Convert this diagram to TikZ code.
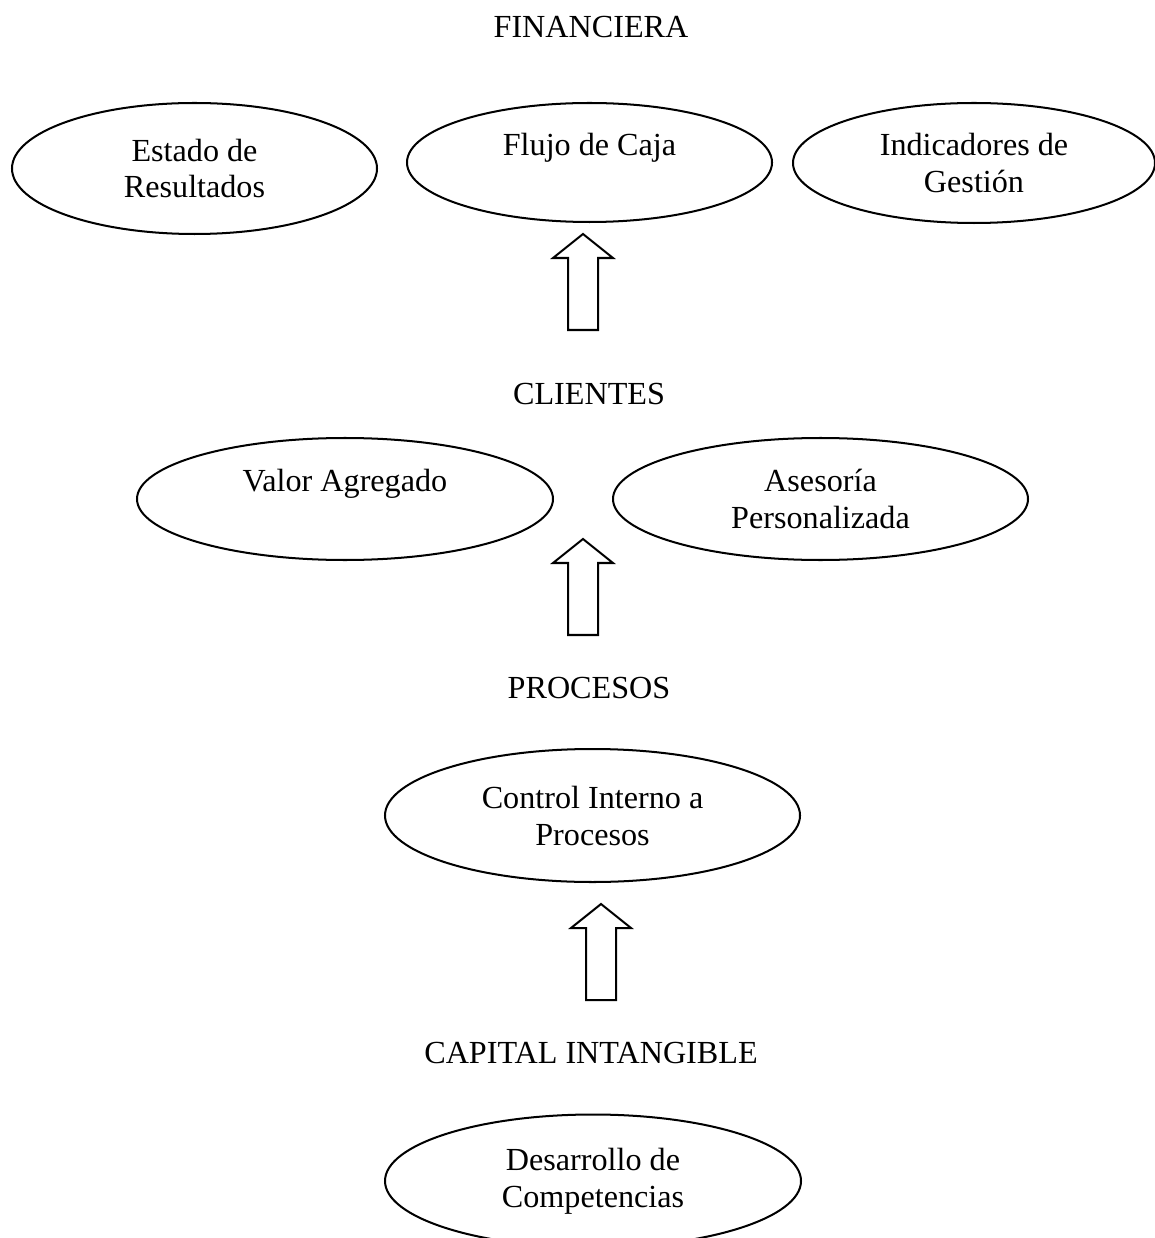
\documentclass[tikz,border=0pt]{standalone}
\usepackage{fontspec}
\setmainfont{Liberation Serif}
\usetikzlibrary{shapes.geometric}

\tikzset{
  txt/.style={font=\fontsize{12}{13.8}\selectfont, inner sep=0pt, align=center},
  oval/.style={draw, line width=0.75pt, ellipse, inner sep=0pt, txt},
  blockline/.style={draw, line width=0.75pt, line join=miter, fill=white},
  uparrow/.pic={
    \path[blockline] (0,0) -- (30,24) -- (15,24) -- (15,96) -- (-15,96)
      -- (-15,24) -- (-30,24) -- cycle;
  }
}

\begin{document}
\begin{tikzpicture}[x=0.3731pt, y=-0.3731pt]
  \useasboundingbox (0,0) rectangle (1154,1238);

  % level headings
  \node[txt] (fin)  at (591,27)   {FINANCIERA};
  \node[txt] (cli)  at (589,394)  {CLIENTES};
  \node[txt] (pro)  at (589,688)  {PROCESOS};
  \node[txt] (cap)  at (591,1053) {CAPITAL INTANGIBLE};

  % financial perspective
  \node[oval, minimum width=365*0.3731pt, minimum height=131*0.3731pt]
    (estado) at (194.5,168.5) {Estado de\\Resultados};
  \node[oval, minimum width=365*0.3731pt, minimum height=119*0.3731pt]
    (flujo) at (589.5,162.5) {Flujo de Caja\\\mbox{}};
  \node[oval, minimum width=362*0.3731pt, minimum height=120*0.3731pt]
    (indic) at (974,163) {Indicadores de\\Gestión};

  % customer perspective
  \node[oval, minimum width=416*0.3731pt, minimum height=122*0.3731pt]
    (valor) at (345,499) {Valor Agregado\\\mbox{}};
  \node[oval, minimum width=415*0.3731pt, minimum height=122*0.3731pt]
    (ases) at (820.5,499) {Asesoría\\Personalizada};

  % internal process perspective
  \node[oval, minimum width=415*0.3731pt, minimum height=133*0.3731pt]
    (control) at (592.5,815.5) {Control Interno a\\Procesos};

  % intangible capital perspective
  \node[oval, minimum width=416*0.3731pt, minimum height=133*0.3731pt]
    (desarr) at (593,1181) {Desarrollo de\\Competencias};

  % hollow upward block arrows between levels
  \pic at (583,234) {uparrow};
  \pic at (583,539) {uparrow};
  \pic at (601,904) {uparrow};
\end{tikzpicture}
\end{document}
